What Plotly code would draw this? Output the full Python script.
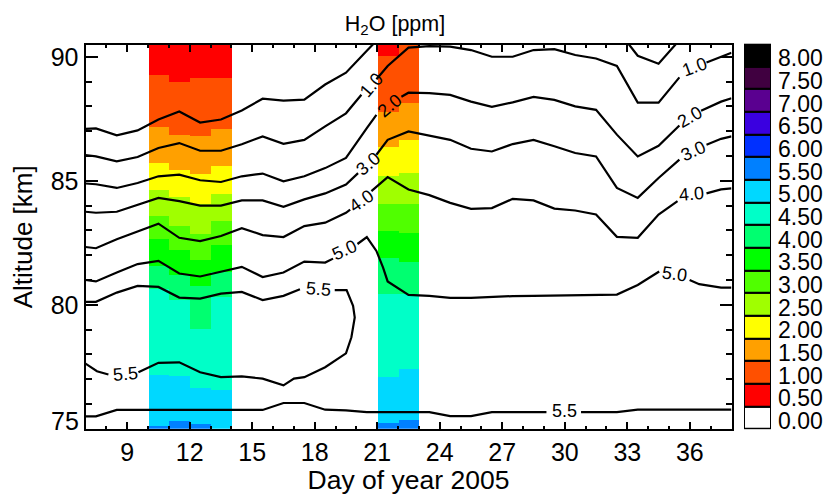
import plotly.graph_objects as go

# colour bar levels, low to high
levels = ["0.00", "0.50", "1.00", "1.50", "2.00", "2.50", "3.00", "3.50", "4.00",
          "4.50", "5.00", "5.50", "6.00", "6.50", "7.00", "7.50", "8.00"]
colors = ["#ffffff", "#ff0000", "#ff5000", "#ffa000", "#ffff00", "#a0ff00", "#50ff00",
          "#00ff00", "#00ff70", "#00ffc8", "#00d8ff", "#0080ff", "#0030ff", "#3a00e0",
          "#5a0090", "#400040", "#000000"]

# measured profiles: centre day of each column
col_days = [10.5, 11.5, 12.5, 13.5, 21.5, 22.5]
top_alt = [90.5, 90.5, 90.5, 90.5, 90.5, 90.5]
# lower altitude of each colour band in each column
low_050 = [89.27, 89.00, 89.16, 89.16, 90.04, 90.50]
low_100 = [87.19, 86.87, 86.83, 87.11, 87.79, 88.15]
low_150 = [85.74, 85.42, 85.26, 85.62, 86.35, 86.63]
low_200 = [84.62, 84.34, 84.06, 84.46, 85.18, 85.30]
low_250 = [83.57, 83.17, 82.85, 83.37, 84.06, 84.06]
low_300 = [82.65, 82.21, 81.81, 82.41, 82.97, 82.89]
low_350 = [81.57, 81.21, 80.76, 81.33, 81.89, 81.73]
low_400 = [80.64, 80.20, 79.04, 80.32, 80.44, 80.44]
low_450 = [77.19, 77.15, 76.63, 76.55, 77.11, 77.43]
low_500 = [75.10, 75.30, 75.18, 75.00, 75.22, 75.34]
low_550 = [75.00, 75.00, 75.00, 75.00, 75.00, 75.00]

# contour lines, None = gap for a label
c05a_days = [7, 7.5, 8.5, 9.5, 10.5, 11.5, 12.5, 13.5, 14.5, 15.5, 16.5, 17.5, 18.5, 19.5, 20.5, 21.5]
c05a_alts = [87.09, 87.11, 86.83, 87.03, 87.47, 87.79, 87.35, 87.47, 87.83, 88.31, 88.23, 88.27, 88.88, 89.36, 90.24, 91.12]
c05b_days = [32.5, 33.5, 34.5, 35.5]
c05b_alts = [91.12, 90.04, 89.72, 90.67]

c10_days = [7, 7.5, 8.5, 9.5, 10.5, 11.5, 12.5, 13.5, 14.5, 15.5, 16.5, 17.5, 18.5, 19.5, 20.24, None,
            20.96, 21.5, 22.5, 23.5, 24.5, 25.5, 26.5, 27.5, 28.5, 29.5, 30.5, 31.5, 32.5, 33.5, 34.5, 35.5, None,
            36.8, 37.5, 38]
c10_alts = [86.04, 85.98, 85.78, 85.96, 86.32, 86.52, 86.21, 86.21, 86.47, 86.79, 86.49, 86.65, 87.19, 87.72, 88.47, None,
            89.09, 89.63, 90.37, 90.43, 90.41, 90.27, 90.0, 90.0, 90.27, 90.31, 90.07, 89.93, 89.63, 88.15, 88.15, 89.17, None,
            89.77, 89.98, 90.16]

c20_days = [7, 7.5, 8.5, 9.5, 10.5, 11.5, 12.5, 13.5, 14.5, 15.5, 16.5, 17.5, 18.5, 19.5, 20.5, 20.96, None,
            22.16, 22.5, 23.5, 24.5, 25.5, 26.5, 27.5, 28.5, 29.5, 30.5, 31.5, 32.5, 33.5, 34.5, 35.5, None,
            36.54, 37.5, 38]
c20_alts = [84.89, 84.86, 84.71, 84.91, 85.18, 85.25, 85.02, 84.95, 85.18, 85.29, 84.98, 85.18, 85.51, 85.92, 87.12, 87.66, None,
            88.39, 88.55, 88.53, 88.46, 88.19, 87.98, 88.16, 88.38, 88.26, 88.0, 87.86, 86.86, 85.98, 86.41, 87.23, None,
            87.82, 88.19, 88.33]

c30_days = [7, 7.5, 8.5, 9.5, 10.5, 11.5, 12.5, 13.5, 14.5, 15.5, 16.5, 17.5, 18.5, 19.5, 20.08, None,
            20.96, 21.5, 22.5, 23.5, 24.5, 25.5, 26.5, 27.5, 28.5, 29.5, 30.5, 31.5, 32.5, 33.5, 34.5, 35.5, None,
            36.8, 37.5, 38]
c30_alts = [83.75, 83.71, 83.75, 84.04, 84.31, 84.18, 84.0, 84.0, 84.21, 84.21, 83.95, 84.25, 84.49, 84.85, 85.31, None,
            86.05, 86.65, 86.99, 86.82, 86.65, 86.29, 86.18, 86.48, 86.65, 86.39, 86.12, 85.98, 84.71, 84.31, 85.11, 85.85, None,
            86.45, 86.69, 86.79]

c40_days = [7, 7.5, 8.5, 9.5, 10.5, 11.5, 12.5, 13.5, 14.5, 15.5, 16.5, 17.5, 18.5, 19.5, 19.7, None,
            20.72, 21.5, 22.5, 23.5, 24.5, 25.5, 26.5, 27.5, 28.5, 29.5, 30.5, 31.5, 32.5, 33.5, 34.5, 35.41, None,
            36.8, 37.5, 38]
c40_alts = [82.33, 82.28, 82.64, 82.97, 83.27, 82.70, 82.57, 82.77, 83.09, 82.81, 82.73, 83.17, 83.31, 83.71, 83.84, None,
            84.58, 85.15, 84.65, 84.42, 84.11, 83.87, 83.90, 84.27, 84.21, 83.88, 83.80, 83.64, 82.74, 82.70, 83.64, 84.18, None,
            84.49, 84.65, 84.69]

c50_days = [7, 7.5, 8.5, 9.5, 10.5, 11.5, 12.5, 13.5, 14.5, 15.5, 16.5, 17.5, 18.5, 18.88, None,
            20.05, 20.5, 20.96, 21.28, 21.5, 22.5, 23.5, 24.5, 25.5, 26.5, 27.5, 28.5, 29.5, 30.5, 31.5, 32.5, 33.5, 34.53, None,
            35.99, 36.45, 37.5, 38]
c50_alts = [81.0, 80.94, 81.30, 81.64, 81.77, 81.26, 81.14, 81.34, 81.53, 81.12, 81.30, 81.74, 81.70, 81.86, None,
            82.45, 82.73, 82.17, 81.50, 80.94, 80.40, 80.36, 80.28, 80.28, 80.33, 80.35, 80.36, 80.37, 80.39, 80.40, 80.41, 80.80, 81.34, None,
            81.0, 80.83, 80.69, 80.69]

# 5.5 closes round the moist tongue and comes back to the left edge
c55a_days = [7, 7.5, 8.5, 9.5, 10.5, 11.5, 12.5, 13.5, 14.5, 15.5, 16.5, 17.29, None,
             18.96, 19.53, 19.84, 19.92, 19.76, 19.5, 18.5, 17.5, 17, 16.5, 15.5, 14.5, 13.5, 12.5, 11.5, 10.5, 9.54, None,
             8.1, 7.55, 7]
c55a_alts = [80.12, 80.12, 80.49, 80.76, 80.72, 80.29, 80.25, 80.45, 80.52, 80.19, 80.36, 80.63, None,
             80.59, 80.59, 79.96, 79.49, 78.69, 78.04, 77.48, 77.08, 77.02, 76.75, 77.02, 77.11, 77.08, 77.28, 77.68, 77.66, 77.28, None,
             77.19, 77.32, 77.63]
c55b_days = [7, 7.5, 8.5, 15.5, 16.5, 17.5, 18.5, 19.5, 20.5, 23.5, 24.5, 25.5, 26.5, 29.12, None,
             30.78, 32.5, 33.5, 38]
c55b_alts = [75.50, 75.50, 75.76, 75.76, 76.04, 76.04, 75.77, 75.74, 75.67, 75.67, 75.51, 75.51, 75.67, 75.67, None,
             75.67, 75.67, 75.77, 75.77]

contours = [(c05a_days, c05a_alts), (c05b_days, c05b_alts), (c10_days, c10_alts), (c20_days, c20_alts),
            (c30_days, c30_alts), (c40_days, c40_alts), (c50_days, c50_alts), (c55a_days, c55a_alts),
            (c55b_days, c55b_alts)]

# contour labels
label_text = ["1.0", "2.0", "3.0", "4.0", "5.0", "5.5", "5.5", "5.5", "1.0", "2.0", "3.0", "4.0", "5.0"]
label_days = [20.72, 21.57, 20.56, 20.24, 19.44, 18.16, 8.90, 29.98, 36.21, 36.0, 36.18, 36.08, 35.26]
label_alts = [88.86, 88.03, 85.67, 84.18, 82.2, 80.63, 77.22, 75.70, 89.6, 87.59, 86.18, 84.45, 81.23]
label_rot = [-50, -40, -40, -35, -25, 5, -5, 0, -20, -30, -25, -5, 8]

FONT = "Liberation Sans"
# the page body has an 8 px margin, so the figure is 8 px smaller and shifted
OFF = 8
W, H = 838 - OFF, 495 - OFF


def px(x):
    return (x - OFF) / W


def py(y):
    return (H - (y - OFF)) / H


fig = go.Figure()

# colour bands, stacked from the top of each column down
lows = [low_050, low_100, low_150, low_200, low_250, low_300, low_350, low_400, low_450, low_500, low_550]
upper = top_alt
for i, low in enumerate(lows):
    fig.add_trace(go.Bar(
        x=col_days,
        y=[u - l for u, l in zip(upper, low)],
        base=low,
        width=1,
        marker=dict(color=colors[i + 1], line=dict(width=0)),
        showlegend=False,
    ))
    upper = low

for days, alts in contours:
    fig.add_trace(go.Scatter(
        x=days, y=alts, mode="lines",
        line=dict(color="black", width=2.2),
        connectgaps=False, showlegend=False,
    ))

# colour bar
fig.add_trace(go.Bar(
    x=[0.5] * len(levels),
    y=[1] * len(levels),
    base=list(range(len(levels))),
    width=1,
    marker=dict(color=colors, line=dict(color="black", width=2)),
    xaxis="x2", yaxis="y2", showlegend=False,
))

for t, d, a, r in zip(label_text, label_days, label_alts, label_rot):
    fig.add_annotation(x=d, y=a, text=t, textangle=r, showarrow=False,
                       font=dict(family=FONT, size=18, color="black"))

# IDL puts the bottom label above the axis end
fig.add_annotation(x=0, xref="x domain", y=75, yref="y", text="75", showarrow=False,
                   xanchor="right", xshift=-5, yshift=8,
                   font=dict(family=FONT, size=25, color="black"))

fig.update_layout(
    width=W, height=H,
    margin=dict(l=0, r=0, t=0, b=0),
    paper_bgcolor="white", plot_bgcolor="white",
    barmode="overlay", bargap=0,
    font=dict(family=FONT, color="black"),
    title=dict(text="H<sub>2</sub>O [ppm]", x=px(395), xanchor="center", y=py(23), yanchor="middle",
               font=dict(family=FONT, size=21.5, color="black")),
    xaxis=dict(
        domain=[px(85.5), px(731.5)], range=[7, 38],
        tickmode="array", tickvals=[9, 12, 15, 18, 21, 24, 27, 30, 33, 36],
        ticks="inside", ticklen=7, tickwidth=2, tickcolor="black",
        minor=dict(tickmode="linear", tick0=7, dtick=1, ticks="inside", ticklen=3, tickwidth=2, tickcolor="black"),
        showline=True, linewidth=2, linecolor="black", mirror="ticks",
        showgrid=False, zeroline=False,
        tickfont=dict(family=FONT, size=25, color="black"),
        title=dict(text="Day of year 2005", font=dict(family=FONT, size=26.5, color="black"), standoff=8),
    ),
    yaxis=dict(
        domain=[py(428.5), py(43)], range=[75, 90.48],
        tickmode="array", tickvals=[80, 85, 90],
        ticks="inside", ticklen=12, tickwidth=2, tickcolor="black",
        minor=dict(tickmode="linear", tick0=75, dtick=1, ticks="inside", ticklen=6, tickwidth=2, tickcolor="black"),
        showline=True, linewidth=2, linecolor="black", mirror="ticks",
        showgrid=False, zeroline=False,
        tickfont=dict(family=FONT, size=25, color="black"),
        title=dict(text="Altitude [km]", font=dict(family=FONT, size=26, color="black"), standoff=17),
    ),
    xaxis2=dict(domain=[px(744), px(771)], range=[0, 1], anchor="y2", automargin=False,
                showticklabels=False, ticks="", showgrid=False, zeroline=False),
    yaxis2=dict(domain=[py(429), py(42)], range=[0, len(levels)], anchor="x2", side="right", automargin=False,
                tickmode="array", tickvals=[i + 0.5 for i in range(len(levels))], ticktext=levels,
                ticks="", showgrid=False, zeroline=False, ticklabelstandoff=6, ticklabelshift=3,
                tickfont=dict(family=FONT, size=23, color="black")),
)

fig.write_html("out.html")
